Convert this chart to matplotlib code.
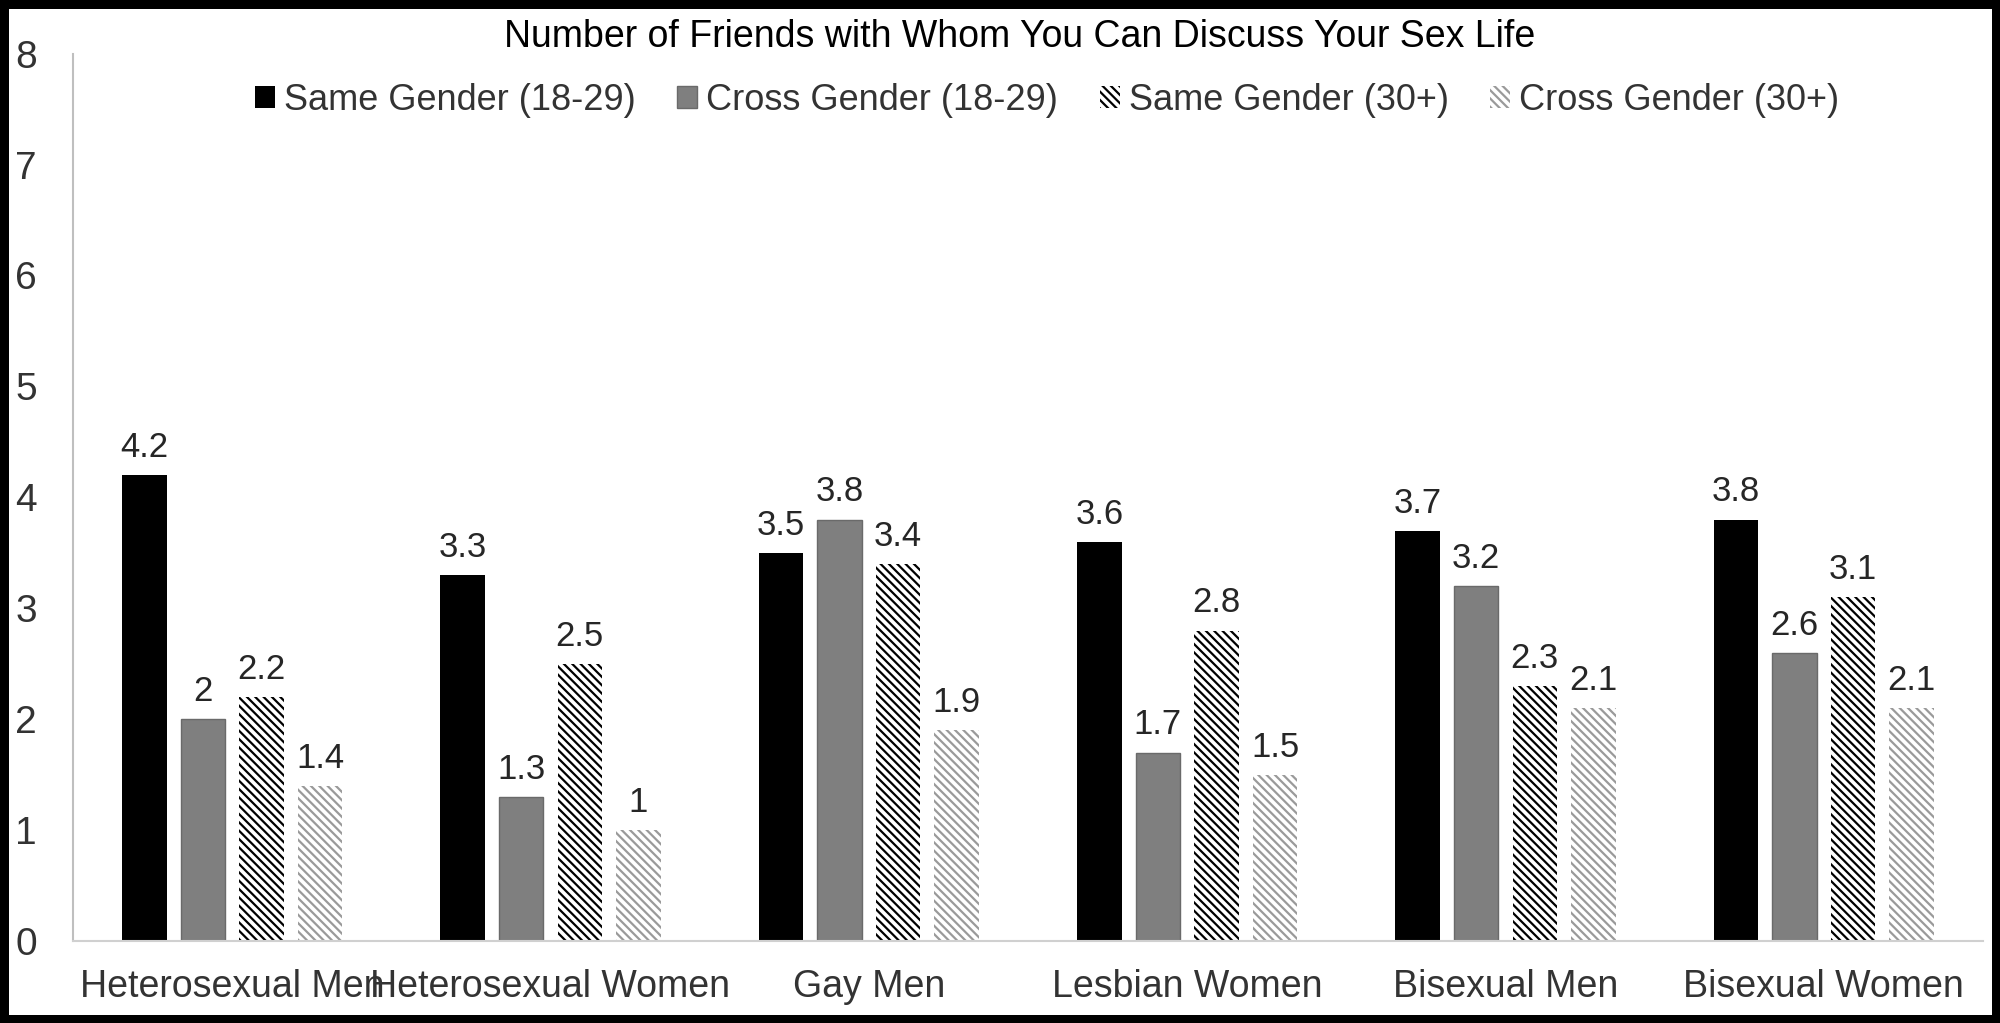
import matplotlib.pyplot as plt
import numpy as np

plt.rcParams['font.family'] = ['Liberation Sans', 'DejaVu Sans']
plt.rcParams['hatch.linewidth'] = 1.6

categorias = ['Heterosexual Men', 'Heterosexual Women', 'Gay Men',
              'Lesbian Women', 'Bisexual Men', 'Bisexual Women']
series = ['Same Gender (18-29)', 'Cross Gender (18-29)',
          'Same Gender (30+)', 'Cross Gender (30+)']
same_joven = [4.2, 3.3, 3.5, 3.6, 3.7, 3.8]
cross_joven = [2, 1.3, 3.8, 1.7, 3.2, 2.6]
same_mayor = [2.2, 2.5, 3.4, 2.8, 2.3, 3.1]
cross_mayor = [1.4, 1, 1.9, 1.5, 2.1, 2.1]
valores = [same_joven, cross_joven, same_mayor, cross_mayor]

# estilos: (relleno, borde/trama, trama)
estilos = [('#000000', '#000000', None),
           ('#7f7f7f', '#6a6a6a', None),
           ('#ffffff', '#000000', '\\\\\\\\'),
           ('#ffffff', '#9a9a9a', '\\\\\\\\')]

fig = plt.figure(figsize=(20, 10.23), dpi=100, linewidth=11, edgecolor='black')
ax = fig.add_axes([0.0365, 0.080, 0.955, 0.8676])

x = np.arange(len(categorias))
ancho = 0.14
paso = 0.184
for i, (vals, nombre) in enumerate(zip(valores, series)):
    fc, ec, hatch = estilos[i]
    barras = ax.bar(x + (i - 1.5) * paso, vals, ancho, color=fc,
                    edgecolor=ec, hatch=hatch, linewidth=1 if i == 1 else 0,
                    label=nombre)
    for b, v in zip(barras, vals):
        ax.annotate(f'{v:g}', (b.get_x() + b.get_width() / 2, b.get_height()),
                    xytext=(0, 8), textcoords='offset points',
                    ha='center', va='bottom', fontsize=25, color='#262626')

ax.set_xlim(-0.5, len(categorias) - 0.5)
ax.set_ylim(0, 8)
ax.set_yticks(range(0, 9))
ax.set_xticks(x)
ax.set_xticklabels(categorias, fontsize=27, color='#333333')
ax.tick_params(axis='y', length=0, pad=26, labelsize=28, labelcolor='#333333')
ax.tick_params(axis='x', length=0, pad=20)
for lado in ['top', 'right']:
    ax.spines[lado].set_visible(False)
ax.spines['left'].set_color('#bfbfbf')
ax.spines['bottom'].set_color('#d0d0d0')
ax.spines['left'].set_linewidth(1.5)
ax.spines['bottom'].set_linewidth(1.5)

fig.text(0.510, 0.964, 'Number of Friends with Whom You Can Discuss Your Sex Life',
         ha='center', va='center', fontsize=27, color='#000000')
ax.legend(loc='center', bbox_to_anchor=(0.5236, 0.902), bbox_transform=fig.transFigure,
          ncol=4, frameon=False, fontsize=26, handlelength=0.55, handleheight=0.55,
          handletextpad=0.25, columnspacing=1.15, labelcolor='#333333')

fig.savefig('out.png', dpi=100)
